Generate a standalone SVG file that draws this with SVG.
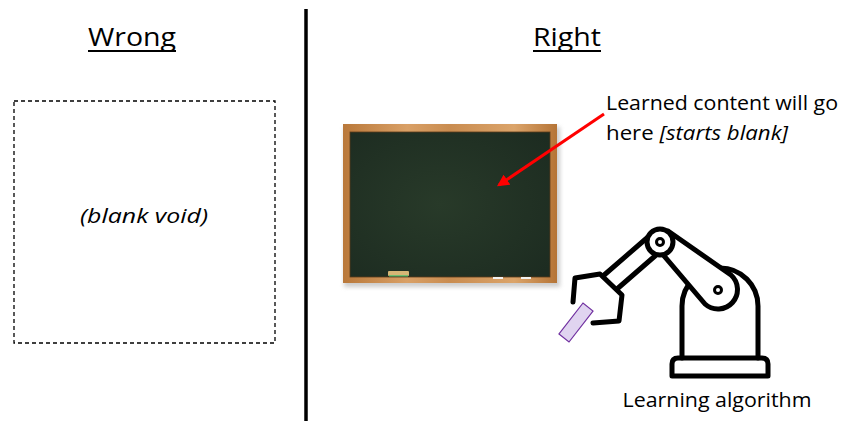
<svg xmlns="http://www.w3.org/2000/svg" width="842" height="422" viewBox="0 0 842 422">
  <style>
    text { font-family: "Open Sans", "Noto Sans", "Liberation Sans", sans-serif; fill: #000; }
    .title { font-size: 26px; }
    .label { font-size: 19.5px; }
    .it { font-style: italic; }
    .robot { fill: none; stroke: #000; stroke-width: 5; stroke-linejoin: round; stroke-linecap: round; }
    .robot-solid { fill: #fff; stroke: #000; stroke-width: 5; stroke-linejoin: round; stroke-linecap: round; }
  </style>
  <defs>
    <linearGradient id="frameH" x1="0" y1="0" x2="1" y2="0">
      <stop offset="0" stop-color="#b9783a"/>
      <stop offset="0.3" stop-color="#d9a066"/>
      <stop offset="0.5" stop-color="#c98c50"/>
      <stop offset="0.8" stop-color="#dba46a"/>
      <stop offset="1" stop-color="#b57436"/>
    </linearGradient>
    <radialGradient id="slate" cx="0.45" cy="0.5" r="0.7">
      <stop offset="0" stop-color="#283a29"/>
      <stop offset="1" stop-color="#1d2c21"/>
    </radialGradient>
    <filter id="shadow" x="-10%" y="-10%" width="120%" height="125%">
      <feGaussianBlur stdDeviation="2"/>
    </filter>
    <marker id="redHead" viewBox="0 0 10 10" refX="8" refY="5" markerWidth="4" markerHeight="4" orient="auto">
      <path d="M0,0 L10,5 L0,10 z" fill="#ff0000"/>
    </marker>
  </defs>

  <!-- divider -->
  <line x1="306" y1="9" x2="306" y2="421" stroke="#000" stroke-width="3.5"/>

  <!-- left column -->
  <g id="wrong-title">
    <text class="title" x="132" y="46" text-anchor="middle" textLength="88" lengthAdjust="spacingAndGlyphs">Wrong</text>
    <line x1="88" y1="51" x2="176" y2="51" stroke="#000" stroke-width="1.8"/>
  </g>
  <g id="blank-void">
    <rect x="14" y="101" width="261" height="242" fill="none" stroke="#000" stroke-width="1.3" stroke-dasharray="4,3"/>
    <text class="label it" x="144" y="223" text-anchor="middle" textLength="128" lengthAdjust="spacingAndGlyphs">(blank void)</text>
  </g>

  <!-- right column -->
  <g id="right-title">
    <text class="title" x="567" y="46" text-anchor="middle" textLength="68" lengthAdjust="spacingAndGlyphs">Right</text>
    <line x1="533" y1="51" x2="601" y2="51" stroke="#000" stroke-width="1.8"/>
  </g>

  <g id="chalkboard">
    <rect x="344" y="127" width="216" height="160" fill="#9a9a9a" opacity="0.5" filter="url(#shadow)"/>
    <rect x="343" y="124" width="214" height="159" fill="url(#frameH)"/>
    <rect x="350" y="132" width="200" height="145" fill="url(#slate)" stroke="#5a3a1a" stroke-width="0.8"/>
    <rect x="388" y="271" width="21" height="5" rx="1" fill="#d6b676"/>
    <rect x="389" y="275" width="19" height="1.5" fill="#6fbf6f"/>
    <rect x="493" y="277" width="10" height="2" fill="#f2f2f2"/>
    <rect x="521" y="277" width="10" height="2" fill="#f2f2f2"/>
  </g>

  <g id="note">
    <text class="label" x="606" y="110" textLength="232" lengthAdjust="spacingAndGlyphs">Learned content will go</text>
    <text class="label" x="606" y="140" textLength="182" lengthAdjust="spacingAndGlyphs">here <tspan class="it">[starts blank]</tspan></text>
  </g>

  <g id="connectors">
    <line x1="604" y1="114" x2="499" y2="185" stroke="#ff0000" stroke-width="3" marker-end="url(#redHead)"/>
  </g>

  <g id="robot-arm">
    <!-- marker held by the gripper -->
    <polygon points="559,334 569,342 593,311 583,303" fill="#e0d4f0" stroke="#7030a0" stroke-width="1.2"/>
    <!-- base plate -->
    <path class="robot" d="M672,376 L672,364 Q672,358 678,358 L762,358 Q768,358 768,364 L768,376 Z"/>
    <!-- body with domed top -->
    <path class="robot" d="M682,358 L682,306 A38,38 0 0 1 758,306 L758,358"/>
    <!-- forearm -->
    <line class="robot" x1="603" y1="276" x2="648" y2="237"/>
    <line class="robot" x1="617" y1="289" x2="655" y2="256"/>
    <!-- upper link, shoulder to elbow, covering the dome -->
    <path class="robot-solid" d="M668,231 L731,275 A18,18 0 0 1 705,304 L659,250 Z"/>
    <circle class="robot-solid" cx="660" cy="242" r="13"/>
    <circle cx="660" cy="242" r="3.5" fill="none" stroke="#000" stroke-width="3"/>
    <circle cx="718" cy="290" r="3.5" fill="none" stroke="#000" stroke-width="3"/>
    <!-- gripper -->
    <polyline class="robot" points="573,302 575,278 600,274 622,295 619,321 593,323"/>
  </g>

  <g id="robot-label">
    <text class="label" x="717" y="407" text-anchor="middle" textLength="189" lengthAdjust="spacingAndGlyphs">Learning algorithm</text>
  </g>
</svg>
